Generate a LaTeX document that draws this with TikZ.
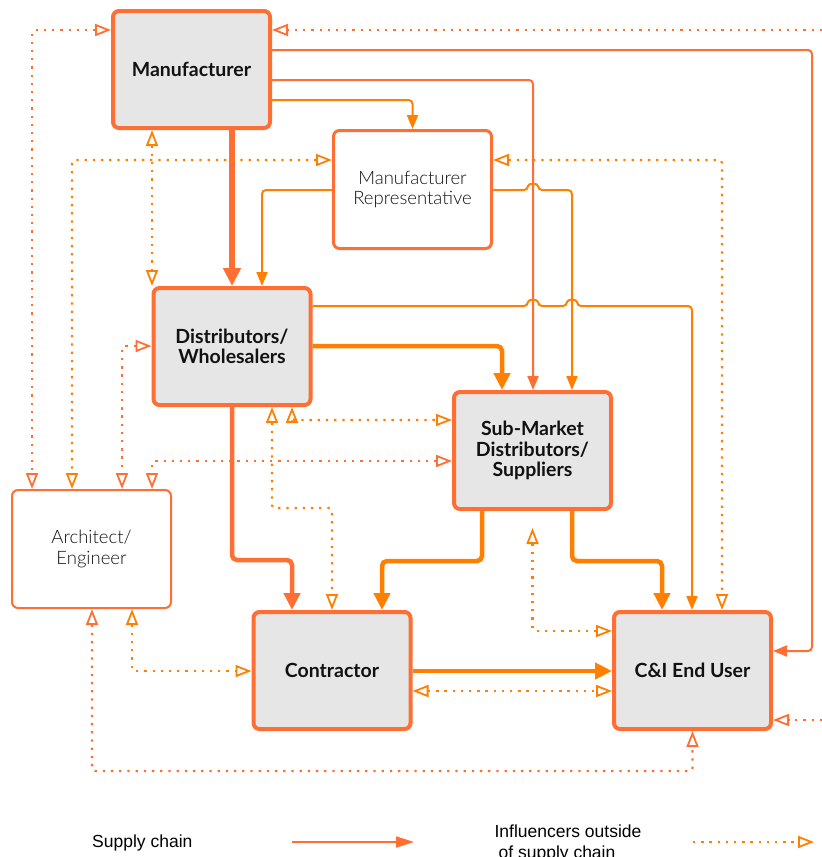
\documentclass[tikz,border=0pt]{standalone}
\usepackage{fontspec}
\setmainfont{Lato}
\newfontfamily\lightfont{Lato Light}
\newfontfamily\legendfont{Liberation Sans}
\usetikzlibrary{arrows.meta}
\definecolor{cA}{RGB}{255,110,51}
\definecolor{cB}{RGB}{255,128,0}
\definecolor{boxgray}{RGB}{230,230,230}
\definecolor{txt}{RGB}{17,17,17}
\begin{document}
\begin{tikzpicture}[x=1pt,y=-1pt,
  box/.style={rectangle, rounded corners=6pt, draw=cA, inner sep=0pt, align=center, text=txt},
  graybox/.style={box, fill=boxgray, line width=4pt, minimum width=157pt, minimum height=117pt, font=\fontsize{19.5}{20.5}\selectfont\bfseries},
  whitebox/.style={box, fill=white, line width=3pt, minimum width=158pt, minimum height=118pt, font=\lightfont\fontsize{18.5}{20.5}\selectfont},
  thinbox/.style={box, fill=white, line width=2pt, minimum width=159pt, minimum height=118pt, font=\lightfont\fontsize{18.5}{20.5}\selectfont},
  sthin/.style={line width=2pt, rounded corners=4pt, -{Triangle[length=14pt,width=11pt]}},
  sthick/.style={line width=4.5pt, rounded corners=5pt, -{Triangle[length=17pt,width=16pt]}},
  otip/.tip={Triangle[open,length=16pt,width=12pt,line width=1.8pt]},
  infl/.style={line width=2.3pt, dash pattern=on 2.3pt off 5.9pt, rounded corners=3pt, otip-otip},
  inflone/.style={line width=2.3pt, dash pattern=on 2.3pt off 5.9pt, rounded corners=3pt, -otip},
]
\useasboundingbox (0,0) rectangle (822,857);

% boxes
\node[graybox] (man) at (191.5,69.5) {Manufacturer};
\node[whitebox] (rep) at (412.5,189.5) {Manufacturer\\Representative};
\node[graybox] (dis) at (232,346.5) {Distributors/\\Wholesalers};
\node[graybox] (sub) at (532.5,450.5) {Sub-Market\\Distributors/\\Suppliers};
\node[thinbox] (arc) at (91.5,549) {Architect/\\Engineer};
\node[graybox] (con) at (332,670.5) {Contractor};
\node[graybox] (eu) at (692.5,670.5) {C\&I End User};

% supply chain connectors
\draw[sthick, cA, line width=6pt, -{Triangle[length=18pt,width=17pt]}] (man.south -| dis.north) -- (dis.north);
\draw[sthin, cA] (man.east |- 0,50) -| (812,651) -- (eu.east |- 0,651);
\draw[sthin, cA] (man.east |- 0,80) -| (sub.north -| 533,0);
\draw[sthin, cB] (man.east |- 0,100) -| (rep.north);
\draw[sthin, cB] (rep.west |- 0,190) -| (dis.north -| 262,0);
\draw[sthin, cB] (rep.east |- 0,190) -- (528,190) .. controls (528,183) and (538,183) .. (538,190) -| (sub.north -| 572,0);
\draw[sthin, cB] (dis.east |- 0,306) -- (528,306) .. controls (528,299) and (538,299) .. (538,306) -- (567,306) .. controls (567,299) and (577,299) .. (577,306) -| (eu.north -| 692,0);
\draw[sthick, cB] (dis.east |- 0,346) -| (sub.north -| 502,0);
\draw[sthick, cA] (dis.south) |- (292,560) -- (con.north -| 292,0);
\draw[sthick, cB] (sub.south -| 482,0) |- (382,561) -- (con.north -| 382,0);
\draw[sthick, cB] (sub.south -| 572,0) |- (662,561) -- (eu.north -| 662,0);
\draw[sthick, cB] (con.east |- 0,671) -- (eu.west |- 0,671);

% influencer connectors
\coordinate (edgeA) at (822,30);
\coordinate (edgeB) at (822,720);
\draw[infl, cA] (man.west |- 0,30) -| (arc.north -| 32,0);
\draw[inflone, cA] (edgeA) -- (man.east |- 0,30);
\draw[inflone, cA] (edgeB) -- (eu.east |- 0,720);
\draw[infl, cB] (man.south -| 152,0) -- (dis.north -| 152,0);
\draw[infl, cB] (rep.west |- 0,160) -| (arc.north -| 72,0);
\draw[infl, cB] (rep.east |- 0,160) -| (eu.north -| 722,0);
\draw[infl, cA] (dis.west |- 0,346) -| (arc.north -| 122,0);
\draw[infl, cA] (sub.west |- 0,461) -| (arc.north -| 152,0);
\draw[infl, cB] (dis.south -| 292,0) |- (sub.west |- 0,420);
\draw[infl, cB] (dis.south -| 272,0) |- (332,508) -- (con.north -| 332,0);
\draw[infl, cB, shorten <=17pt] (sub.south) |- (eu.west |- 0,631);
\draw[infl, cB] (con.east |- 0,691) -- (eu.west |- 0,691);
\draw[infl, cA] (arc.south -| 92,0) |- (eu.south |- 0,771) -- (eu.south);
\draw[infl, cB] (arc.south -| 132,0) |- (con.west |- 0,671);

% legend
\node[font=\legendfont\fontsize{17.5}{21}\selectfont, anchor=base west, inner sep=0pt] (lg1) at (92,847) {Supply chain};
\coordinate (la1) at (292,842);
\coordinate (la2) at (414,842);
\draw[cA, line width=2pt, -{Triangle[length=18pt,width=11pt]}] (la1) -- (la2);
\node[font=\legendfont\fontsize{17.5}{21}\selectfont, anchor=base, inner sep=0pt] (lg2) at (568,837) {Influencers outside};
\node[font=\legendfont\fontsize{17.5}{21}\selectfont, anchor=base, inner sep=0pt] (lg3) at (557,858) {of supply chain};
\coordinate (lb1) at (693,842);
\coordinate (lb2) at (814,842);
\draw[inflone, cB] (lb1) -- (lb2);
\end{tikzpicture}
\end{document}
